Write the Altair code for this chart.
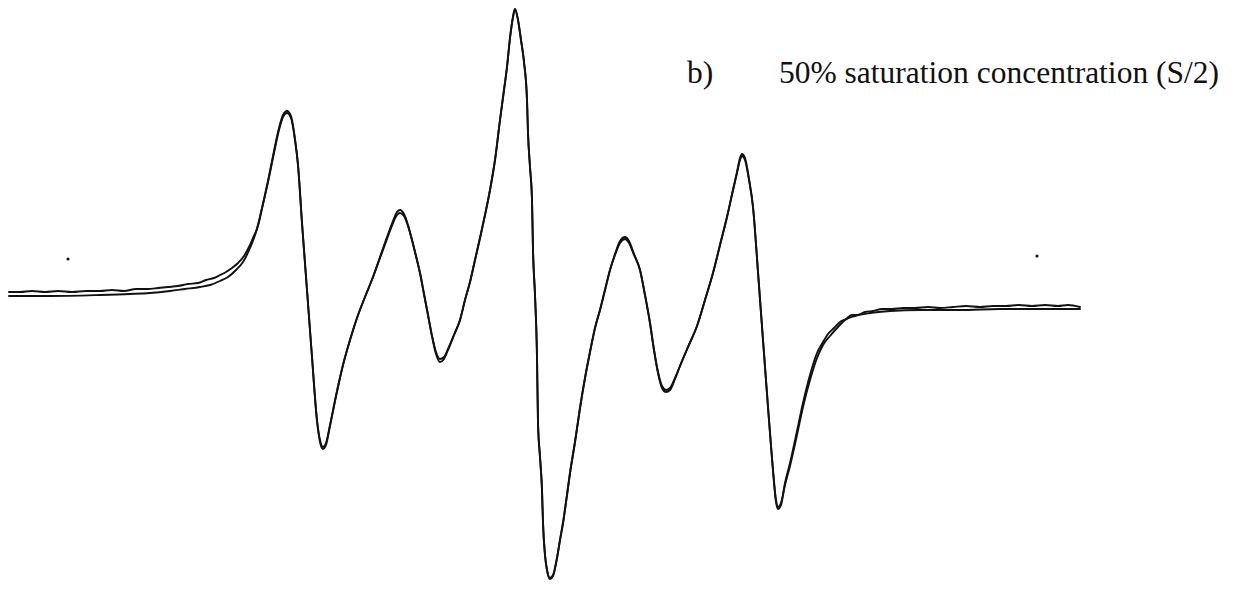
import altair as alt
import pandas as pd

# Simulated EPR spectrum (smooth trace): field offset (G), intensity (a.u.)
sim_field = [-52.4, -48.3, -43.3, -40.3, -38.3, -36.3, -34.8, -33.3, -32.3, -31.3, -30.5, -29.7, -29.0, -28.3,
             -27.7, -27.1, -26.5, -25.9, -25.4, -25.0, -24.6, -24.2, -23.8, -23.5, -23.1, -22.6, -22.1, -21.6,
             -21.3, -21.0, -20.7, -20.3, -19.7, -19.0, -18.3, -17.6, -16.8, -16.0, -15.3, -14.6, -14.0, -13.6,
             -13.3, -12.9, -12.5, -12.1, -11.7, -11.3, -10.9, -10.5, -10.1, -9.7, -9.3, -8.9, -8.5, -7.9,
             -7.3, -6.8, -6.3, -5.8, -5.3, -4.8, -4.3, -3.8, -3.3, -2.9, -2.6, -2.3, -2.0, -1.8,
             -1.5, -1.2, -0.9, -0.6, -0.5, -0.3, -0.1, 0.0, 0.2, 0.4, 0.5, 0.7, 0.9, 1.0,
             1.2, 1.4, 1.7, 2.0, 2.4, 2.7, 3.0, 3.4, 3.7, 4.2, 4.7, 5.2, 5.7, 6.2,
             6.7, 7.2, 7.7, 8.2, 8.7, 9.2, 9.6, 10.1, 10.7, 11.2, 11.7, 12.1, 12.5, 12.9,
             13.3, 13.7, 14.2, 14.7, 15.5, 16.4, 17.2, 18.0, 18.7, 19.4, 20.0, 20.4, 20.7, 20.9,
             21.2, 21.6, 22.0, 22.5, 23.0, 23.5, 24.0, 24.3, 24.5, 24.8, 25.2, 25.7, 26.4, 27.0,
             27.7, 28.4, 29.0, 29.7, 30.5, 31.2, 32.2, 33.7, 35.7, 38.7, 42.7, 46.7, 50.7, 54.7]
sim_int = [0.4, 0.4, 0.5, 0.6, 0.7, 0.9, 1.1, 1.3, 1.5, 1.9, 2.3, 3.0, 3.8, 5.2,
           6.8, 9.2, 11.8, 14.7, 17.0, 18.3, 18.7, 18.2, 16.0, 13.5, 7.7, 1.0, -5.7, -12.0,
           -14.0, -14.7, -14.3, -12.5, -9.6, -6.5, -4.0, -1.8, 0.3, 2.3, 4.2, 6.1, 7.7, 8.5,
           8.7, 8.4, 7.4, 6.0, 4.4, 2.7, 0.6, -1.5, -3.6, -5.2, -5.9, -5.7, -4.9, -3.5,
           -2.0, 0.0, 1.8, 4.0, 6.2, 8.5, 11.0, 14.0, 18.0, 21.0, 23.3, 26.2, 28.3, 29.1,
           28.0, 26.0, 23.8, 20.0, 16.7, 13.3, 10.0, 5.0, 0.5, -5.7, -12.3, -15.7, -19.0, -22.3,
           -25.5, -27.0, -27.8, -27.5, -25.8, -24.0, -22.3, -19.5, -17.3, -14.2, -10.8, -7.8, -5.2, -2.8,
           -1.0, 1.0, 3.0, 4.5, 5.7, 6.1, 5.7, 4.5, 3.0, 0.5, -2.3, -5.0, -7.2, -8.6,
           -9.0, -8.8, -7.8, -6.6, -4.7, -2.6, 0.0, 2.7, 5.5, 8.3, 11.0, 12.7, 14.0, 14.4,
           14.0, 12.0, 9.3, 2.8, -4.0, -10.7, -17.0, -20.0, -20.7, -20.3, -18.5, -16.6, -13.5, -10.7,
           -8.0, -5.8, -4.5, -3.6, -2.7, -2.0, -1.6, -1.3, -1.1, -1.0, -1.0, -0.9, -0.9, -0.9]

# Experimental EPR spectrum (noisy trace)
exp_field = [-52.4, -51.3, -50.1, -48.8, -47.5, -46.1, -44.7, -43.3, -42.1, -40.9, -39.7, -38.5, -37.5, -36.5,
             -35.5, -34.5, -33.5, -32.7, -31.9, -31.3, -30.7, -30.1, -29.5, -28.9, -28.4, -28.0, -27.5, -27.0,
             -26.5, -25.9, -25.4, -25.0, -24.6, -24.2, -23.8, -23.5, -23.1, -22.6, -22.1, -21.6, -21.3, -21.0,
             -20.7, -20.3, -19.7, -19.0, -18.3, -17.6, -16.8, -16.0, -15.3, -14.6, -14.0, -13.6, -13.3, -12.9,
             -12.5, -12.1, -11.7, -11.3, -10.9, -10.5, -10.1, -9.7, -9.3, -8.9, -8.5, -7.9, -7.3, -6.8,
             -6.3, -5.8, -5.3, -4.8, -4.3, -3.8, -3.3, -2.9, -2.6, -2.3, -2.0, -1.8, -1.5, -1.2,
             -0.9, -0.6, -0.5, -0.3, -0.1, 0.0, 0.2, 0.4, 0.5, 0.7, 0.9, 1.0, 1.2, 1.4,
             1.7, 2.0, 2.4, 2.7, 3.0, 3.4, 3.7, 4.2, 4.7, 5.2, 5.7, 6.2, 6.7, 7.2,
             7.7, 8.2, 8.7, 9.2, 9.6, 10.1, 10.7, 11.2, 11.7, 12.1, 12.5, 12.9, 13.3, 13.7,
             14.2, 14.7, 15.5, 16.4, 17.2, 18.0, 18.7, 19.4, 20.0, 20.4, 20.7, 20.9, 21.2, 21.6,
             22.0, 22.5, 23.0, 23.5, 24.0, 24.3, 24.5, 24.8, 25.2, 25.7, 26.4, 27.0, 27.7, 28.4,
             29.0, 29.5, 30.1, 30.7, 31.3, 31.9, 32.5, 33.2, 34.0, 34.9, 35.9, 37.0, 38.2, 39.5,
             40.7, 42.0, 43.3, 44.7, 46.0, 47.3, 48.6, 49.9, 51.2, 52.5, 53.5, 54.7]
exp_int = [0.8, 0.8, 0.9, 0.8, 0.9, 0.8, 0.9, 0.9, 1.0, 0.9, 1.1, 1.1, 1.2, 1.3,
           1.4, 1.6, 1.7, 2.0, 2.2, 2.5, 2.8, 3.2, 3.7, 4.4, 5.3, 6.2, 7.4, 9.6,
           11.9, 14.9, 17.2, 18.5, 18.9, 18.4, 16.1, 13.5, 7.7, 1.0, -5.7, -12.1, -14.2, -14.9,
           -14.5, -12.6, -9.6, -6.5, -4.0, -1.8, 0.3, 2.3, 4.3, 6.3, 7.9, 8.8, 9.0, 8.6,
           7.5, 6.0, 4.4, 2.7, 0.6, -1.5, -3.6, -5.4, -6.2, -5.9, -5.0, -3.5, -2.0, 0.0,
           1.8, 4.0, 6.2, 8.5, 11.0, 14.0, 18.0, 21.0, 23.3, 26.2, 28.3, 29.1, 28.0, 26.0,
           23.8, 20.0, 16.7, 13.3, 10.0, 5.0, 0.5, -5.7, -12.3, -15.7, -19.0, -22.3, -25.5, -27.0,
           -27.9, -27.6, -25.8, -24.0, -22.3, -19.5, -17.3, -14.2, -10.8, -7.8, -5.2, -2.8, -1.0, 1.0,
           3.0, 4.6, 5.9, 6.3, 5.9, 4.6, 3.0, 0.5, -2.3, -5.0, -7.3, -8.8, -9.2, -9.0,
           -7.9, -6.6, -4.7, -2.6, 0.0, 2.7, 5.5, 8.3, 11.0, 12.8, 14.2, 14.6, 14.2, 12.1,
           9.3, 2.8, -4.0, -10.7, -17.1, -20.2, -20.9, -20.5, -18.3, -16.3, -13.1, -10.3, -7.5, -5.3,
           -4.2, -3.4, -2.8, -2.2, -1.9, -1.5, -1.5, -1.2, -1.1, -0.9, -0.9, -0.8, -0.8, -0.7,
           -0.8, -0.7, -0.6, -0.7, -0.6, -0.6, -0.5, -0.6, -0.5, -0.6, -0.5, -0.7]

# Stray specks on the scan
speck_field = [-46.5, 50.4]
speck_int = [4.1, 4.4]

label_letter = "b)"
label_text = "50% saturation concentration (S/2)"

sim_df = pd.DataFrame({"field": sim_field, "intensity": sim_int, "i": range(len(sim_field))})
exp_df = pd.DataFrame({"field": exp_field, "intensity": exp_int, "i": range(len(exp_field))})
speck_df = pd.DataFrame({"field": speck_field, "intensity": speck_int})

W, H = 1222, 595
xs = alt.Scale(domain=[-52.5, 69.7], nice=False, zero=False)
ys = alt.Scale(domain=[-30.3, 29.2], nice=False, zero=False)

def trace(df, width):
    return alt.Chart(df).mark_line(color="#111111", strokeWidth=width, strokeCap="round",
                                   strokeJoin="round", interpolate="monotone", clip=False).encode(
        x=alt.X("field:Q", scale=xs, axis=None),
        y=alt.Y("intensity:Q", scale=ys, axis=None),
        order="i:Q",
    )

sim_line = trace(sim_df, 1.9)
exp_line = trace(exp_df, 1.9)

specks = alt.Chart(speck_df).mark_circle(color="#111111", size=10, opacity=1).encode(
    x=alt.X("field:Q", scale=xs, axis=None),
    y=alt.Y("intensity:Q", scale=ys, axis=None),
)

lab_df = pd.DataFrame({"a": [label_letter], "b": [label_text]})
letter = alt.Chart(lab_df).mark_text(font="Liberation Serif", fontSize=31.5, align="left",
                                     baseline="alphabetic", color="#111111").encode(
    x=alt.value(679), y=alt.value(75), text="a:N")
caption = alt.Chart(lab_df).mark_text(font="Liberation Serif", fontSize=31.5, align="left",
                                      baseline="alphabetic", color="#111111").encode(
    x=alt.value(771), y=alt.value(75), text="b:N")

chart = alt.layer(sim_line, exp_line, specks, letter, caption).properties(
    width=W, height=H, padding=0, autosize=alt.AutoSizeParams(type="none"),
    background="white",
).configure_view(stroke=None)

chart.save("out.html", embed_options={"renderer": "svg", "actions": False})
